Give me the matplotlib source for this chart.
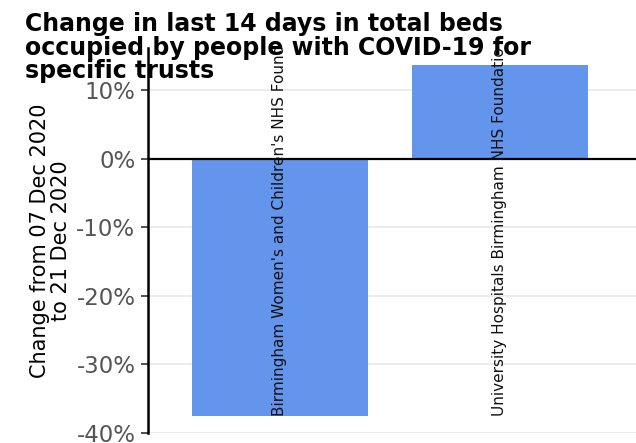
import numpy as np
import matplotlib as mpl
from matplotlib import pyplot as plt

# Data
trusts = ["Birmingham Women's and Children's NHS Foundation Trust",
          "University Hospitals Birmingham NHS Foundation Trust"]
changes = [-37.5, 13.6]
yticks = [10, 0, -10, -20, -30, -40]

fig = plt.figure(figsize=(6.36, 4.43), dpi=100)
ax = fig.add_axes([0.2327, 0.0226, 0.7673, 0.869])

x = np.arange(len(trusts))
ax.bar(x, changes, width=0.8, color='#6495ED', zorder=2)
ax.axhline(0, color='black', linewidth=1.6, zorder=3)

# Labels inside the bars, starting from the lowest value (clipped at the top)
for xi, name in zip(x, trusts):
    ax.text(xi, min(changes), name, rotation=90, ha='center', va='bottom',
            fontsize=11, color='#111111', clip_on=True, zorder=4)

ax.set_xlim(-0.6, 1.62)
ax.set_ylim(-40, 16.1)
ax.set_yticks(yticks)
ax.set_yticklabels([f"{t}%" for t in yticks])
ax.set_xticks([])
ax.tick_params(axis='y', labelsize=16.5, labelcolor='#555555', color='#333333',
               length=5, width=1.2, pad=4)
ax.grid(axis='y', color='#e8e8e8', linewidth=1.2, zorder=0)
for s in ['top', 'right', 'bottom']:
    ax.spines[s].set_visible(False)
ax.spines['left'].set_linewidth(1.8)

ax.set_ylabel("Change from 07 Dec 2020\nto 21 Dec 2020", fontsize=15,
              linespacing=1.07, labelpad=4)

fig.text(0.04, 0.972, "Change in last 14 days in total beds\noccupied by people with COVID-19 for\nspecific trusts",
         fontsize=17, fontweight='bold', ha='left', va='top', linespacing=0.97)

fig.savefig('out.png', dpi=100)
